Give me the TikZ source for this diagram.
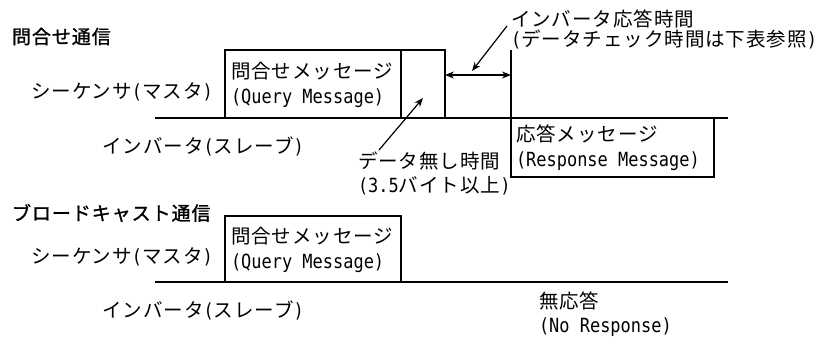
\documentclass[tikz,border=0pt]{standalone}
\usepackage{fontspec}
\setmainfont[LetterSpace=5]{Noto Sans CJK JP}
\newfontfamily\latfont[FakeStretch=0.87]{DejaVu Sans Mono}
\newfontfamily\ttlfont[FakeBold=1.2,LetterSpace=5]{Noto Sans CJK JP}
\newcommand\mylat[1]{{\latfont #1}}
\newcommand\myl{{\latfont (}}
\newcommand\myr{{\latfont )}}
\usetikzlibrary{arrows.meta}
\begin{document}
\begin{tikzpicture}[x=1pt,y=-1pt,
  every node/.style={inner sep=0pt, outer sep=0pt},
  txt/.style={font=\fontsize{19.5}{24.5}\selectfont, align=left},
  ttl/.style={font=\fontsize{19}{22}\selectfont\ttlfont},
  box/.style={draw, line width=1.2pt, anchor=north west},
  ln/.style={line width=1.2pt},
  arr/.style={line width=1.2pt, -{Stealth[length=9pt,width=7pt]}},
  darr/.style={line width=1.2pt, {Stealth[length=9pt,width=7pt]}-{Stealth[length=9pt,width=7pt]}}]
\useasboundingbox (0,0) rectangle (821,340);
% ---- query communication
\node[ttl, anchor=west] (t1) at (12,36.5) {問合せ通信};
\node[txt] (m1) at (122,92) {シーケンサ\myl マスタ\myr};
\node[txt] (s1) at (203,146) {インバータ\myl スレーブ\myr};
\node[box, minimum width=176pt, minimum height=68pt] (q1) at (225,50) {};
\node[box, minimum width=44pt, minimum height=68pt] (g1) at (401,50) {};
\node[txt, anchor=west] (q1t) at (231,85) {問合せメッセージ\\\mylat{(Query Message)}};
\coordinate (vt) at (511,50);
\coordinate (vb) at (511,118);
\draw[ln] (vt) -- (vb);
\node[box, minimum width=203pt, minimum height=59pt] (r1) at (511,118) {};
\node[txt, anchor=west] (r1t) at (516,148) {応答メッセージ\\\mylat{(Response Message)}};
\coordinate (l1a) at (155,118);
\coordinate (l1b) at (728,118);
\draw[ln] (l1a) -- (l1b);
\coordinate (da) at (511,75);
\draw[darr] (g1.east |- da) -- (da);
\node[txt, anchor=west, font=\fontsize{19.5}{20}\selectfont] (rt) at (511,29.5) {インバータ応答時間\\\myl データチェック時間は下表参照\myr};
\coordinate (rta) at (507,26);
\coordinate (rtb) at (472,71);
\draw[arr] (rta) -- (rtb);
\node[txt, anchor=west] (nd) at (358,173.5) {データ無し時間\\\mylat{(3.5}バイト以上\myr};
\coordinate (nda) at (379,150);
\coordinate (ndb) at (423,98);
\draw[arr] (nda) -- (ndb);
% ---- broadcast
\node[ttl, anchor=west] (t2) at (12,213) {ブロードキャスト通信};
\node[txt] (m2) at (122,257) {シーケンサ\myl マスタ\myr};
\node[txt] (s2) at (203,310) {インバータ\myl スレーブ\myr};
\node[box, minimum width=176pt, minimum height=66pt] (q2) at (225,216) {};
\node[txt, anchor=west] (q2t) at (231,250) {問合せメッセージ\\\mylat{(Query Message)}};
\coordinate (l2a) at (155,282);
\coordinate (l2b) at (728,282);
\draw[ln] (l2a) -- (l2b);
\node[txt, anchor=west] (nr) at (539,314) {無応答\\\mylat{(No Response)}};
\end{tikzpicture}
\end{document}
